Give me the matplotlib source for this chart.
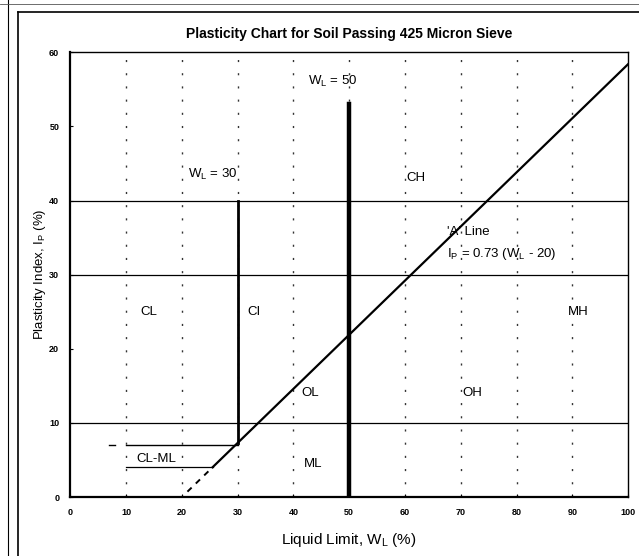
import numpy as np
import matplotlib
matplotlib.use("Agg")
import matplotlib.pyplot as plt
from matplotlib.lines import Line2D

plt.rcParams['font.family'] = ['Liberation Sans', 'DejaVu Sans']

# data of the chart
x_ticks = [0, 10, 20, 30, 40, 50, 60, 70, 80, 90, 100]
y_ticks = [0, 10, 20, 30, 40, 50, 60]
grid_wl = [10, 20, 30, 40, 50, 60, 70, 80, 90]

# horizontal boundaries (Ip, WL from, WL to)
h_lines = [(10, 0, 100), (30, 0, 100), (40, 0, 100)]
clml_top = (7, 10, 30)
clml_bot = (4, 10, 25.5)

# 'A' line Ip = 0.73 (WL - 20)
a_slope = 0.73
a_offset = 20
a_solid = [25.5, 100]
a_dash = [21, 25.5]

# vertical boundaries
wl30 = (30, 0.73 * (30 - 20), 40)
wl50 = (50, 0, 53)

zones = ['CL', 'CI', 'CH', 'MH', 'OL', 'OH', 'ML', 'CL-ML']
zone_x = [14, 33, 62, 91, 43, 72, 43.5, 15.5]
zone_y = [25, 25, 43, 25, 14, 14, 4.5, 5.2]

fig = plt.figure(figsize=(6.39, 5.56), dpi=100)
ax = fig.add_axes([0.110, 0.106, 0.873, 0.800])

# dotted guide lines
for g in grid_wl:
    ax.axvline(g, color='#333333', lw=1.0, ls=(0, (1.5, 8)), zorder=1)

for ip, a, b in h_lines:
    ax.plot([a, b], [ip, ip], color='black', lw=0.9)

ax.plot([clml_top[1], clml_top[2]], [clml_top[0], clml_top[0]], color='black', lw=1.0)
ax.plot([7, 8], [7, 7], color='black', lw=1.0)
ax.plot([clml_bot[1], clml_bot[2]], [clml_bot[0], clml_bot[0]], color='black', lw=0.9)

xs = np.array(a_solid)
ax.plot(xs, a_slope * (xs - a_offset), color='black', lw=1.6)
xd = np.array(a_dash)
ax.plot(xd, a_slope * (xd - a_offset), color='black', lw=1.4, ls=(0, (3, 3)))

ax.plot([wl30[0], wl30[0]], [wl30[1], wl30[2]], color='black', lw=2.0)
ax.plot([wl50[0], wl50[0]], [wl50[1], wl50[2]], color='black', lw=3.2)

for z, x, y in zip(zones, zone_x, zone_y):
    ax.text(x, y, z, ha='center', va='center', fontsize=9.5)

ax.text(25.5, 43.5, 'W$_\\mathregular{L}$ = 30', ha='center', va='center', fontsize=9.5)
ax.text(47, 56, 'W$_\\mathregular{L}$ = 50', ha='center', va='center', fontsize=9.5)
ax.text(67.5, 35.8, "'A' Line", ha='left', va='center', fontsize=9.5)
ax.text(67.5, 32.8, 'I$_\\mathregular{P}$ = 0.73 (W$_\\mathregular{L}$ - 20)',
        ha='left', va='center', fontsize=9.5)

ax.set_xlim(0, 100)
ax.set_ylim(0, 60)
ax.set_xticks(x_ticks)
ax.set_yticks(y_ticks)
ax.tick_params(labelsize=6.5, length=2, direction='in', pad=8)
for lab in ax.get_xticklabels() + ax.get_yticklabels():
    lab.set_fontweight('bold')
for s in ['left', 'bottom']:
    ax.spines[s].set_linewidth(1.6)
for s in ['top', 'right']:
    ax.spines[s].set_linewidth(1.0)

ax.set_xlabel('Liquid Limit, W$_\\mathregular{L}$ (%)', fontsize=11, labelpad=10)
ax.set_ylabel('Plasticity Index, I$_\\mathregular{P}$ (%)', fontsize=9.5, labelpad=1)
ax.set_title('Plasticity Chart for Soil Passing 425 Micron Sieve',
             fontsize=10, fontweight='bold', pad=10)

# scan border
fig.add_artist(Line2D([8 / 639, 8 / 639], [0, 1], color='black', lw=0.8))
fig.add_artist(Line2D([18 / 639, 18 / 639], [0, 1 - 12 / 556], color='black', lw=1.2))
fig.add_artist(Line2D([18 / 639, 1], [1 - 12 / 556, 1 - 12 / 556], color='black', lw=1.2))
fig.add_artist(Line2D([0, 1], [1 - 4 / 556, 1 - 4 / 556], color='#555555', lw=0.6))

fig.savefig('out.png', dpi=100)
